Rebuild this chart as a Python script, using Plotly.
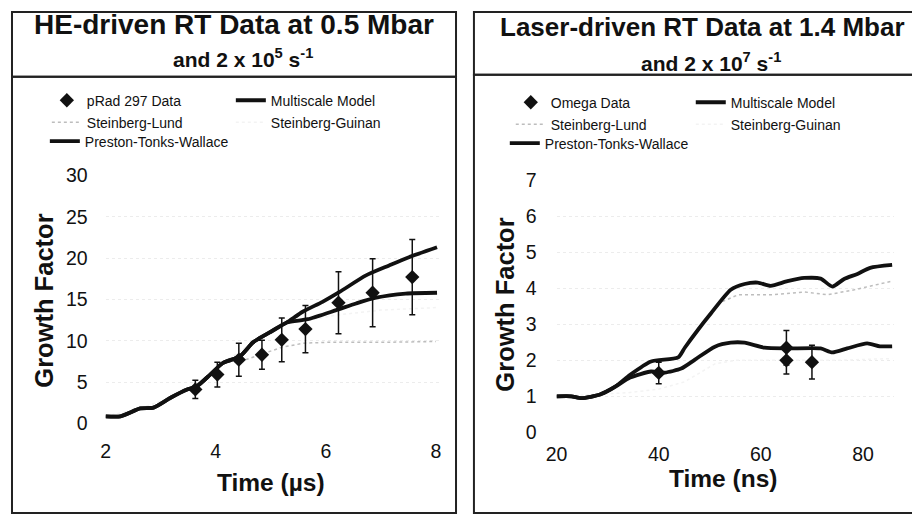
import plotly.graph_objects as go

W, H = 912, 525

# ---------------- Left panel: HE-driven RT data (time in microseconds) ----------------
he_data_t = [3.63, 4.03, 4.42, 4.84, 5.20, 5.63, 6.23, 6.85, 7.57]
he_data_g = [4.1, 5.9, 7.7, 8.3, 10.1, 11.4, 14.6, 15.8, 17.7]
he_data_err = [1.1, 1.5, 2.0, 1.75, 2.65, 2.85, 3.75, 4.1, 4.55]

he_ptw_t = [2.0, 2.27, 2.63, 2.87, 3.18, 3.48, 3.66, 3.9, 4.13, 4.44, 4.68, 4.98,
            5.29, 5.58, 5.94, 6.25, 6.73, 7.15, 7.51, 8.02]
he_ptw_g = [0.85, 0.85, 1.8, 1.9, 3.1, 4.1, 4.5, 5.9, 7.3, 8.1, 9.8, 11.0,
            12.2, 13.5, 14.7, 15.9, 17.9, 19.1, 20.1, 21.3]

he_ms_t = [2.0, 2.27, 2.63, 2.87, 3.18, 3.48, 3.66, 3.9, 4.13, 4.44, 4.68, 4.98,
           5.29, 5.67, 6.19, 6.55, 6.91, 7.45, 8.02]
he_ms_g = [0.85, 0.85, 1.8, 1.9, 3.1, 4.1, 4.5, 5.9, 7.3, 8.1, 9.8, 11.0,
           12.2, 12.6, 13.7, 14.5, 15.2, 15.7, 15.8]

he_sl_t = [2.0, 2.27, 2.63, 2.87, 3.18, 3.48, 3.66, 3.9, 4.13, 4.5, 4.8, 5.2,
           5.6, 6.0, 7.0, 8.0]
he_sl_g = [0.85, 0.85, 1.8, 1.9, 3.1, 4.1, 4.5, 5.9, 7.3, 7.6, 8.3, 9.2,
           9.7, 9.8, 9.8, 9.9]

he_sg_t = [2.0, 2.63, 3.18, 3.66, 4.13, 4.68, 5.29, 5.5, 5.7, 6.2, 7.0, 8.0]
he_sg_g = [0.85, 1.8, 3.1, 4.5, 7.3, 9.8, 12.2, 12.3, 12.5, 13.1, 13.7, 14.0]

# ---------------- Right panel: Laser-driven RT data (time in ns) ----------------
om_data_t = [40, 65, 65, 70]
om_data_g = [1.65, 2.35, 2.0, 1.95]
om_data_err = [0.3, 0.48, 0.38, 0.47]

ls_ptw_t = [20, 22.9, 24.9, 28.5, 31.5, 34.4, 38.5, 43.8, 45.1, 47.7, 50.2, 54.1,
            56.8, 59.4, 61.9, 65.2, 68.5, 71.7, 74.0, 76.3, 78.9, 81.4, 85.7]
ls_ptw_g = [1.0, 1.0, 0.95, 1.05, 1.27, 1.6, 1.97, 2.08, 2.35, 2.85, 3.3, 3.96,
            4.12, 4.16, 4.07, 4.2, 4.29, 4.27, 4.05, 4.26, 4.4, 4.57, 4.65]

ls_ms_t = [20, 22.9, 24.9, 28.5, 31.5, 34.4, 38.5, 41.2, 44.4, 47.1, 51.0, 54.1,
           56.8, 60.7, 65.2, 71.7, 74.0, 76.9, 80.8, 83.3, 85.7]
ls_ms_g = [1.0, 1.0, 0.95, 1.05, 1.27, 1.52, 1.69, 1.66, 1.77, 2.02, 2.38, 2.49,
           2.49, 2.35, 2.33, 2.33, 2.22, 2.33, 2.47, 2.39, 2.39]

ls_sl_t = [20, 22.9, 24.9, 28.5, 31.5, 34.4, 38.5, 43.8, 45.1, 47.7, 50.2, 52.0,
           55.5, 61.9, 68.5, 73.0, 78.3, 85.7]
ls_sl_g = [1.0, 1.0, 0.95, 1.05, 1.27, 1.6, 1.97, 2.08, 2.35, 2.85, 3.25, 3.6,
           3.82, 3.82, 3.9, 3.82, 3.96, 4.2]

ls_sg_t = [20, 28.5, 34.0, 40.0, 45.0, 51.0, 55.0, 65.0, 75.0, 85.7]
ls_sg_g = [1.0, 1.05, 1.1, 1.2, 1.4, 1.9, 2.0, 2.0, 2.0, 2.05]

he_xticks = [2, 4, 6, 8]
he_yticks = [0, 5, 10, 15, 20, 25, 30]
ls_xticks = [20, 40, 60, 80]
ls_yticks = [0, 1, 2, 3, 4, 5, 6, 7]

FONT = "Liberation Sans, Arial, Helvetica, sans-serif"
BLACK = "#111111"
SL_COLOR = "#bdbdbd"
SG_COLOR = "#f3f3f3"

# The page shows the figure inside a box from (10, 10) to (912, 515);
# map target picture pixels into paper fractions of that box.
OX, OY, BW, BH = 10.0, 10.0, 902.0, 505.0


def px(x):
    return (x - OX) / BW


def py(y):
    return 1 - (y - OY) / BH


fig = go.Figure()

# ----- left traces -----
fig.add_trace(go.Scatter(x=he_sg_t, y=he_sg_g, mode="lines", name="Steinberg-Guinan",
                         line=dict(color=SG_COLOR, width=1.5, dash="dot"),
                         xaxis="x", yaxis="y", legend="legend2", legendrank=2))
fig.add_trace(go.Scatter(x=he_sl_t, y=he_sl_g, mode="lines", name="Steinberg-Lund",
                         line=dict(color=SL_COLOR, width=1.5, dash="dot"),
                         xaxis="x", yaxis="y", legend="legend2", legendrank=1))
fig.add_trace(go.Scatter(x=he_ms_t, y=he_ms_g, mode="lines", name="Multiscale Model",
                         line=dict(color=BLACK, width=3.8, shape="spline", smoothing=0.6),
                         xaxis="x", yaxis="y", legend="legend", legendrank=2))
fig.add_trace(go.Scatter(x=he_ptw_t, y=he_ptw_g, mode="lines", name="Preston-Tonks-Wallace",
                         line=dict(color=BLACK, width=3.8, shape="spline", smoothing=0.6),
                         xaxis="x", yaxis="y", legend="legend3"))
fig.add_trace(go.Scatter(x=he_data_t, y=he_data_g, mode="markers", name="pRad 297 Data",
                         marker=dict(symbol="diamond", size=11, color=BLACK),
                         error_y=dict(type="data", array=he_data_err, color=BLACK,
                                      thickness=1.5, width=3),
                         xaxis="x", yaxis="y", legend="legend", legendrank=1))

# ----- right traces -----
fig.add_trace(go.Scatter(x=ls_sg_t, y=ls_sg_g, mode="lines", name="Steinberg-Guinan",
                         line=dict(color=SG_COLOR, width=1.5, dash="dot"),
                         xaxis="x2", yaxis="y2", legend="legend5", legendrank=2))
fig.add_trace(go.Scatter(x=ls_sl_t, y=ls_sl_g, mode="lines", name="Steinberg-Lund",
                         line=dict(color=SL_COLOR, width=1.5, dash="dot"),
                         xaxis="x2", yaxis="y2", legend="legend5", legendrank=1))
fig.add_trace(go.Scatter(x=ls_ms_t, y=ls_ms_g, mode="lines", name="Multiscale Model",
                         line=dict(color=BLACK, width=3.8, shape="spline", smoothing=0.6),
                         xaxis="x2", yaxis="y2", legend="legend4", legendrank=2))
fig.add_trace(go.Scatter(x=ls_ptw_t, y=ls_ptw_g, mode="lines", name="Preston-Tonks-Wallace",
                         line=dict(color=BLACK, width=3.8, shape="spline", smoothing=0.6),
                         xaxis="x2", yaxis="y2", legend="legend6"))
fig.add_trace(go.Scatter(x=om_data_t, y=om_data_g, mode="markers", name="Omega Data",
                         marker=dict(symbol="diamond", size=11, color=BLACK),
                         error_y=dict(type="data", array=om_data_err, color=BLACK,
                                      thickness=1.5, width=3),
                         xaxis="x2", yaxis="y2", legend="legend4", legendrank=1))


def legend_style(x, y, ew=None):
    d = dict(x=px(x), y=py(y), orientation="h", xanchor="left", yanchor="middle",
             bgcolor="rgba(0,0,0,0)", borderwidth=0, itemwidth=30,
             font=dict(family=FONT, size=14, color=BLACK), tracegroupgap=0)
    if ew is not None:
        d.update(entrywidth=ew, entrywidthmode="pixels")
    return d


axis_font = dict(family=FONT, size=19.5, color=BLACK)
grid = dict(showgrid=True, gridcolor="#ececec", griddash="dot", gridwidth=1)

fig.update_layout(
    width=W, height=H,
    margin=dict(l=0, r=0, t=0, b=0),
    paper_bgcolor="white", plot_bgcolor="white",
    font=dict(family=FONT, color=BLACK),
    showlegend=True,
    xaxis=dict(domain=[px(105), px(439.6)], range=[2, 8.05], tickvals=he_xticks,
               showgrid=False, zeroline=False, showline=False, ticks="",
               tickfont=axis_font, ticklabelstandoff=14, anchor="y"),
    yaxis=dict(domain=[py(424), py(175)], range=[0, 30], tickvals=he_yticks,
               zeroline=False, showline=False, ticks="", tickfont=axis_font,
               ticklabelstandoff=17, anchor="x", **grid),
    xaxis2=dict(domain=[px(558), px(896.6)], range=[20, 86], tickvals=ls_xticks,
                showgrid=False, zeroline=False, showline=False, ticks="",
                tickfont=axis_font, ticklabelstandoff=8, anchor="y2"),
    yaxis2=dict(domain=[py(433), py(180)], range=[0, 7], tickvals=ls_yticks,
                zeroline=False, showline=False, ticks="", tickfont=axis_font,
                ticklabelstandoff=19, anchor="x2", **grid),
    legend=legend_style(46, 100, 139),
    legend2=legend_style(46, 122, 139),
    legend3=legend_style(44, 141),
    legend4=legend_style(512, 102, 135),
    legend5=legend_style(512, 124, 135),
    legend6=legend_style(506, 143),
)

# panel frames
frame = dict(type="rect", xref="paper", yref="paper", line=dict(color="#222222", width=2),
             fillcolor="rgba(0,0,0,0)", layer="above")
fig.add_shape(x0=px(11), x1=px(457), y0=py(11), y1=py(76), **frame)
fig.add_shape(x0=px(11), x1=px(457), y0=py(76), y1=py(514), **frame)
fig.add_shape(x0=px(475), x1=px(935), y0=py(11), y1=py(74), **frame)
fig.add_shape(x0=px(475), x1=px(935), y0=py(74), y1=py(514), **frame)


def note(text, x, y, size, bold=True, angle=0):
    fig.add_annotation(text=f"<b>{text}</b>" if bold else text, x=px(x), y=py(y),
                       xref="paper", yref="paper", showarrow=False,
                       xanchor="center", yanchor="middle", textangle=angle,
                       font=dict(family=FONT, size=size, color=BLACK))


note("HE-driven RT Data at 0.5 Mbar", 234, 24, 28)
note("and 2 x 10<sup>5</sup> s<sup>-1</sup>", 243, 57, 21)
note("Laser-driven RT Data at 1.4 Mbar", 705, 26, 26)
note("and 2 x 10<sup>7</sup> s<sup>-1</sup>", 713, 61, 21)

note("Growth Factor", 43, 301, 25.5, angle=-90)
note("Growth Factor", 506, 305, 25.5, angle=-90)
note("Time (\u00b5s)", 271, 483, 24.5)
note("Time (ns)", 725, 479, 24.5)

fig.write_html(
    "out.html",
    config={"displayModeBar": False},
    post_script="document.body.style.margin='0';document.body.style.padding='0';"
                "document.documentElement.style.overflow='hidden';",
)
